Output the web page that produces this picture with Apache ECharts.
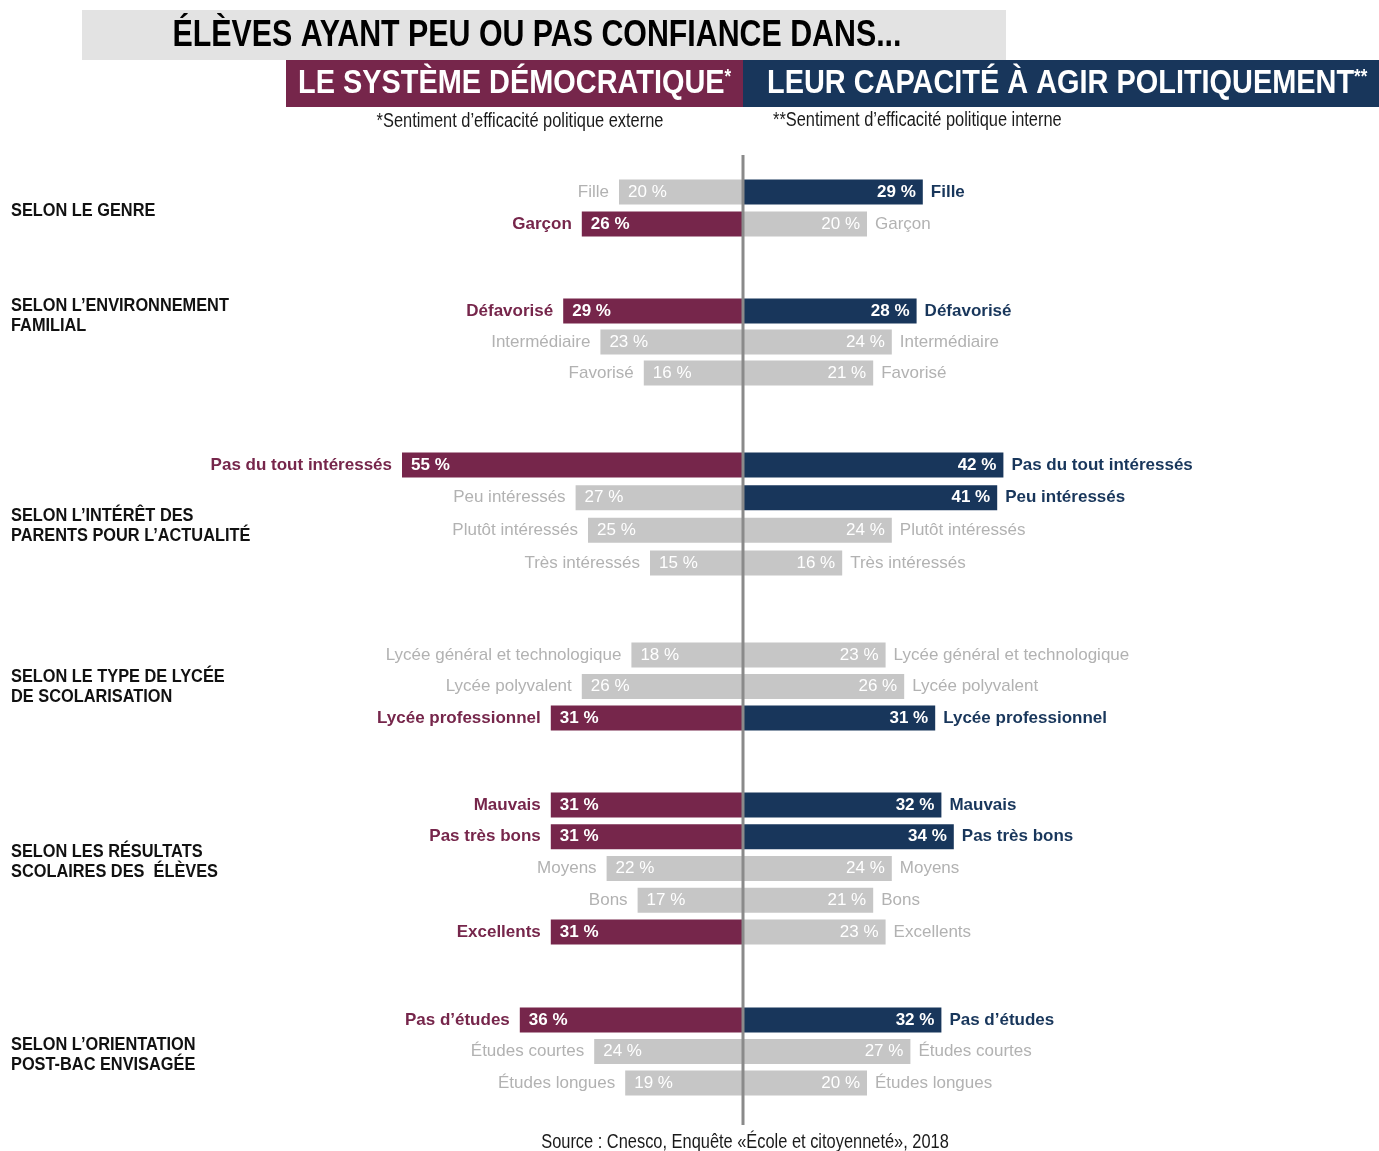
<!DOCTYPE html>
<html><head><meta charset="utf-8">
<script src="https://cdn.jsdelivr.net/npm/echarts@6/dist/echarts.min.js"></script>
<style>html,body{margin:0;padding:0;background:#fff}#c{width:1379px;height:1151px}</style>
</head><body><div id="c"></div>
<script>
// ---------- DATA ----------
const groupTitles = [
  'SELON LE GENRE',
  'SELON L’ENVIRONNEMENT\nFAMILIAL',
  'SELON L’INTÉRÊT DES\nPARENTS POUR L’ACTUALITÉ',
  'SELON LE TYPE DE LYCÉE\nDE SCOLARISATION',
  'SELON LES RÉSULTATS\nSCOLAIRES DES  ÉLÈVES',
  'SELON L’ORIENTATION\nPOST-BAC ENVISAGÉE'
];
const rowNames = [
  ['Fille', 'Garçon'],
  ['Défavorisé', 'Intermédiaire', 'Favorisé'],
  ['Pas du tout intéressés', 'Peu intéressés', 'Plutôt intéressés', 'Très intéressés'],
  ['Lycée général et technologique', 'Lycée polyvalent', 'Lycée professionnel'],
  ['Mauvais', 'Pas très bons', 'Moyens', 'Bons', 'Excellents'],
  ['Pas d’études', 'Études courtes', 'Études longues']
];
// % d'élèves ayant peu ou pas confiance dans le système démocratique (gauche)
const leftValues = [[20, 26], [29, 23, 16], [55, 27, 25, 15], [18, 26, 31], [31, 31, 22, 17, 31], [36, 24, 19]];
// % d'élèves ayant peu ou pas confiance dans leur capacité à agir politiquement (droite)
const rightValues = [[29, 20], [28, 24, 21], [42, 41, 24, 16], [23, 26, 31], [32, 34, 24, 21, 23], [32, 27, 20]];
const leftHighlight = [[0, 1], [1, 0, 0], [1, 0, 0, 0], [0, 0, 1], [1, 1, 0, 0, 1], [1, 0, 0]];
const rightHighlight = [[1, 0], [1, 0, 0], [1, 1, 0, 0], [0, 0, 1], [1, 1, 0, 0, 0], [1, 0, 0]];
const titleMain = 'ÉLÈVES AYANT PEU OU PAS CONFIANCE DANS...';
const titleLeft = 'LE SYSTÈME DÉMOCRATIQUE';
const titleRight = 'LEUR CAPACITÉ À AGIR POLITIQUEMENT';
const noteLeft = '*Sentiment d’efficacité politique externe';
const noteRight = '**Sentiment d’efficacité politique interne';
const sourceText = 'Source : Cnesco, Enquête «École et citoyenneté», 2018';

// ---------- LAYOUT / STYLE ----------
const groupFirstY = [192, 311, 465, 655, 805, 1020];   // centre of first row of each block (px)
const groupLastY  = [224, 373, 563, 718, 932, 1083];   // centre of last row of each block (px)
const groupLabelAnchor = [0.6, 0.15, 1.85, 1.0, 1.8, 1.1];
const GRID_LEFT = 371, GRID_W = 744, X_MIN = -60, X_MAX = 60;
const MAROON = '#76264b', NAVY = '#18365b', GREY = '#c6c6c6', GREY_TXT = '#b2b2b2';
const FF = '"Liberation Sans", Arial, sans-serif';
const FS = 17;
const CONDENSE = 0.82;

const grids = [], xAxes = [], yAxes = [], series = [];
const baseLabel = { show: true, fontFamily: FF, fontSize: FS };
rowNames.forEach((names, g) => {
  const n = names.length;
  const step = (groupLastY[g] - groupFirstY[g]) / (n - 1);
  grids.push({ left: GRID_LEFT, width: GRID_W, top: groupFirstY[g] - step / 2, height: step * n });
  xAxes.push({ type: 'value', gridIndex: g, min: X_MIN, max: X_MAX, show: false });
  yAxes.push({ type: 'category', gridIndex: g, data: names, inverse: true, show: false });
  const lh = leftHighlight[g], rh = rightHighlight[g];
  const common = { type: 'bar', xAxisIndex: g, yAxisIndex: g, barWidth: 25, barGap: '-100%', silent: true };
  series.push(Object.assign({}, common, {
    data: leftValues[g].map((v, i) => ({ value: -v, itemStyle: { color: lh[i] ? MAROON : GREY },
      label: { fontWeight: lh[i] ? 'bold' : 'normal' } })),
    label: Object.assign({}, baseLabel, { position: 'insideLeft', distance: 9, color: '#fff',
      formatter: p => Math.abs(p.value) + ' %' })
  }));
  series.push(Object.assign({}, common, {
    data: rightValues[g].map((v, i) => ({ value: v, itemStyle: { color: rh[i] ? NAVY : GREY },
      label: { fontWeight: rh[i] ? 'bold' : 'normal' } })),
    label: Object.assign({}, baseLabel, { position: 'insideRight', distance: 7, color: '#fff',
      formatter: p => p.value + ' %' })
  }));
  series.push(Object.assign({}, common, {
    itemStyle: { color: 'rgba(0,0,0,0)' },
    data: leftValues[g].map((v, i) => ({ value: -v,
      label: { color: lh[i] ? MAROON : GREY_TXT, fontWeight: lh[i] ? 'bold' : 'normal' } })),
    label: Object.assign({}, baseLabel, { position: 'left', distance: 10, formatter: p => names[p.dataIndex] })
  }));
  series.push(Object.assign({}, common, {
    itemStyle: { color: 'rgba(0,0,0,0)' },
    data: rightValues[g].map((v, i) => ({ value: v,
      label: { color: rh[i] ? NAVY : GREY_TXT, fontWeight: rh[i] ? 'bold' : 'normal' } })),
    label: Object.assign({}, baseLabel, { position: 'right', distance: 8, formatter: p => names[p.dataIndex] })
  }));
});

const chart = echarts.init(document.getElementById('c'), null, { renderer: 'canvas' });
chart.setOption({ animation: false, backgroundColor: '#fff', grid: grids, xAxis: xAxes, yAxis: yAxes, series: series });

// ---------- DECORATIONS (positions from the chart's own scales) ----------
const x0 = chart.convertToPixel({ xAxisIndex: 0 }, 0);
const py = (g, i) => chart.convertToPixel({ yAxisIndex: g }, rowNames[g][i]);
const lastG = rowNames.length - 1;
const topY = py(0, 0) - 37;
const botY = py(lastG, rowNames[lastG].length - 1) + 42;

function ctext(text, x, y, font, fill, align, sx) {
  return { type: 'text', x: x, y: y, scaleX: sx || 1, z: 11,
    style: { text: text, x: 0, y: 0, textAlign: align, textVerticalAlign: 'middle', font: font, fill: fill } };
}
function headText(main, stars, x) {
  return { type: 'text', x: x, y: 84, scaleX: 0.85, z: 11,
    style: { text: '{a|' + main + '}{s|' + stars + '}', x: 0, y: 0, textAlign: 'left', textVerticalAlign: 'middle',
      rich: { a: { fontSize: 34, fontWeight: 'bold', fontFamily: FF, fill: '#fff', color: '#fff' },
              s: { fontSize: 20, fontWeight: 'bold', fontFamily: FF, fill: '#fff', color: '#fff', verticalAlign: 'top' } } } };
}
const graphics = [
  { type: 'rect', shape: { x: 82, y: 10, width: 924, height: 50 }, style: { fill: '#e3e3e3' }, z: 10 },
  ctext(titleMain, 537, 36, 'bold 37px ' + FF, '#000', 'center', CONDENSE),
  { type: 'rect', shape: { x: 286, y: 60, width: x0 - 286, height: 47 }, style: { fill: MAROON }, z: 10 },
  { type: 'rect', shape: { x: x0, y: 60, width: 1379 - x0, height: 47 }, style: { fill: NAVY }, z: 10 },
  headText(titleLeft, '*', 298),
  headText(titleRight, '**', 767),
  ctext(noteLeft, 520, 121, '20px ' + FF, '#1a1a1a', 'center', CONDENSE),
  ctext(noteRight, 773, 120, '20px ' + FF, '#1a1a1a', 'left', CONDENSE),
  ctext(sourceText, x0 + 2, 1142, '20px ' + FF, '#1a1a1a', 'center', CONDENSE),
  { type: 'line', shape: { x1: x0, y1: topY, x2: x0, y2: botY }, style: { stroke: '#8a8a8a', lineWidth: 3 }, z: 20 }
];
groupTitles.forEach((t, g) => {
  const y = py(g, 0) + groupLabelAnchor[g] * (py(g, 1) - py(g, 0));
  graphics.push({ type: 'text', x: 11, y: y, scaleX: 0.86, z: 11,
    style: { text: t, x: 0, y: 0, textAlign: 'left', textVerticalAlign: 'middle',
      font: 'bold 19px ' + FF, lineHeight: 20, fill: '#111' } });
});
chart.setOption({ graphic: graphics });
</script>
</body></html>
